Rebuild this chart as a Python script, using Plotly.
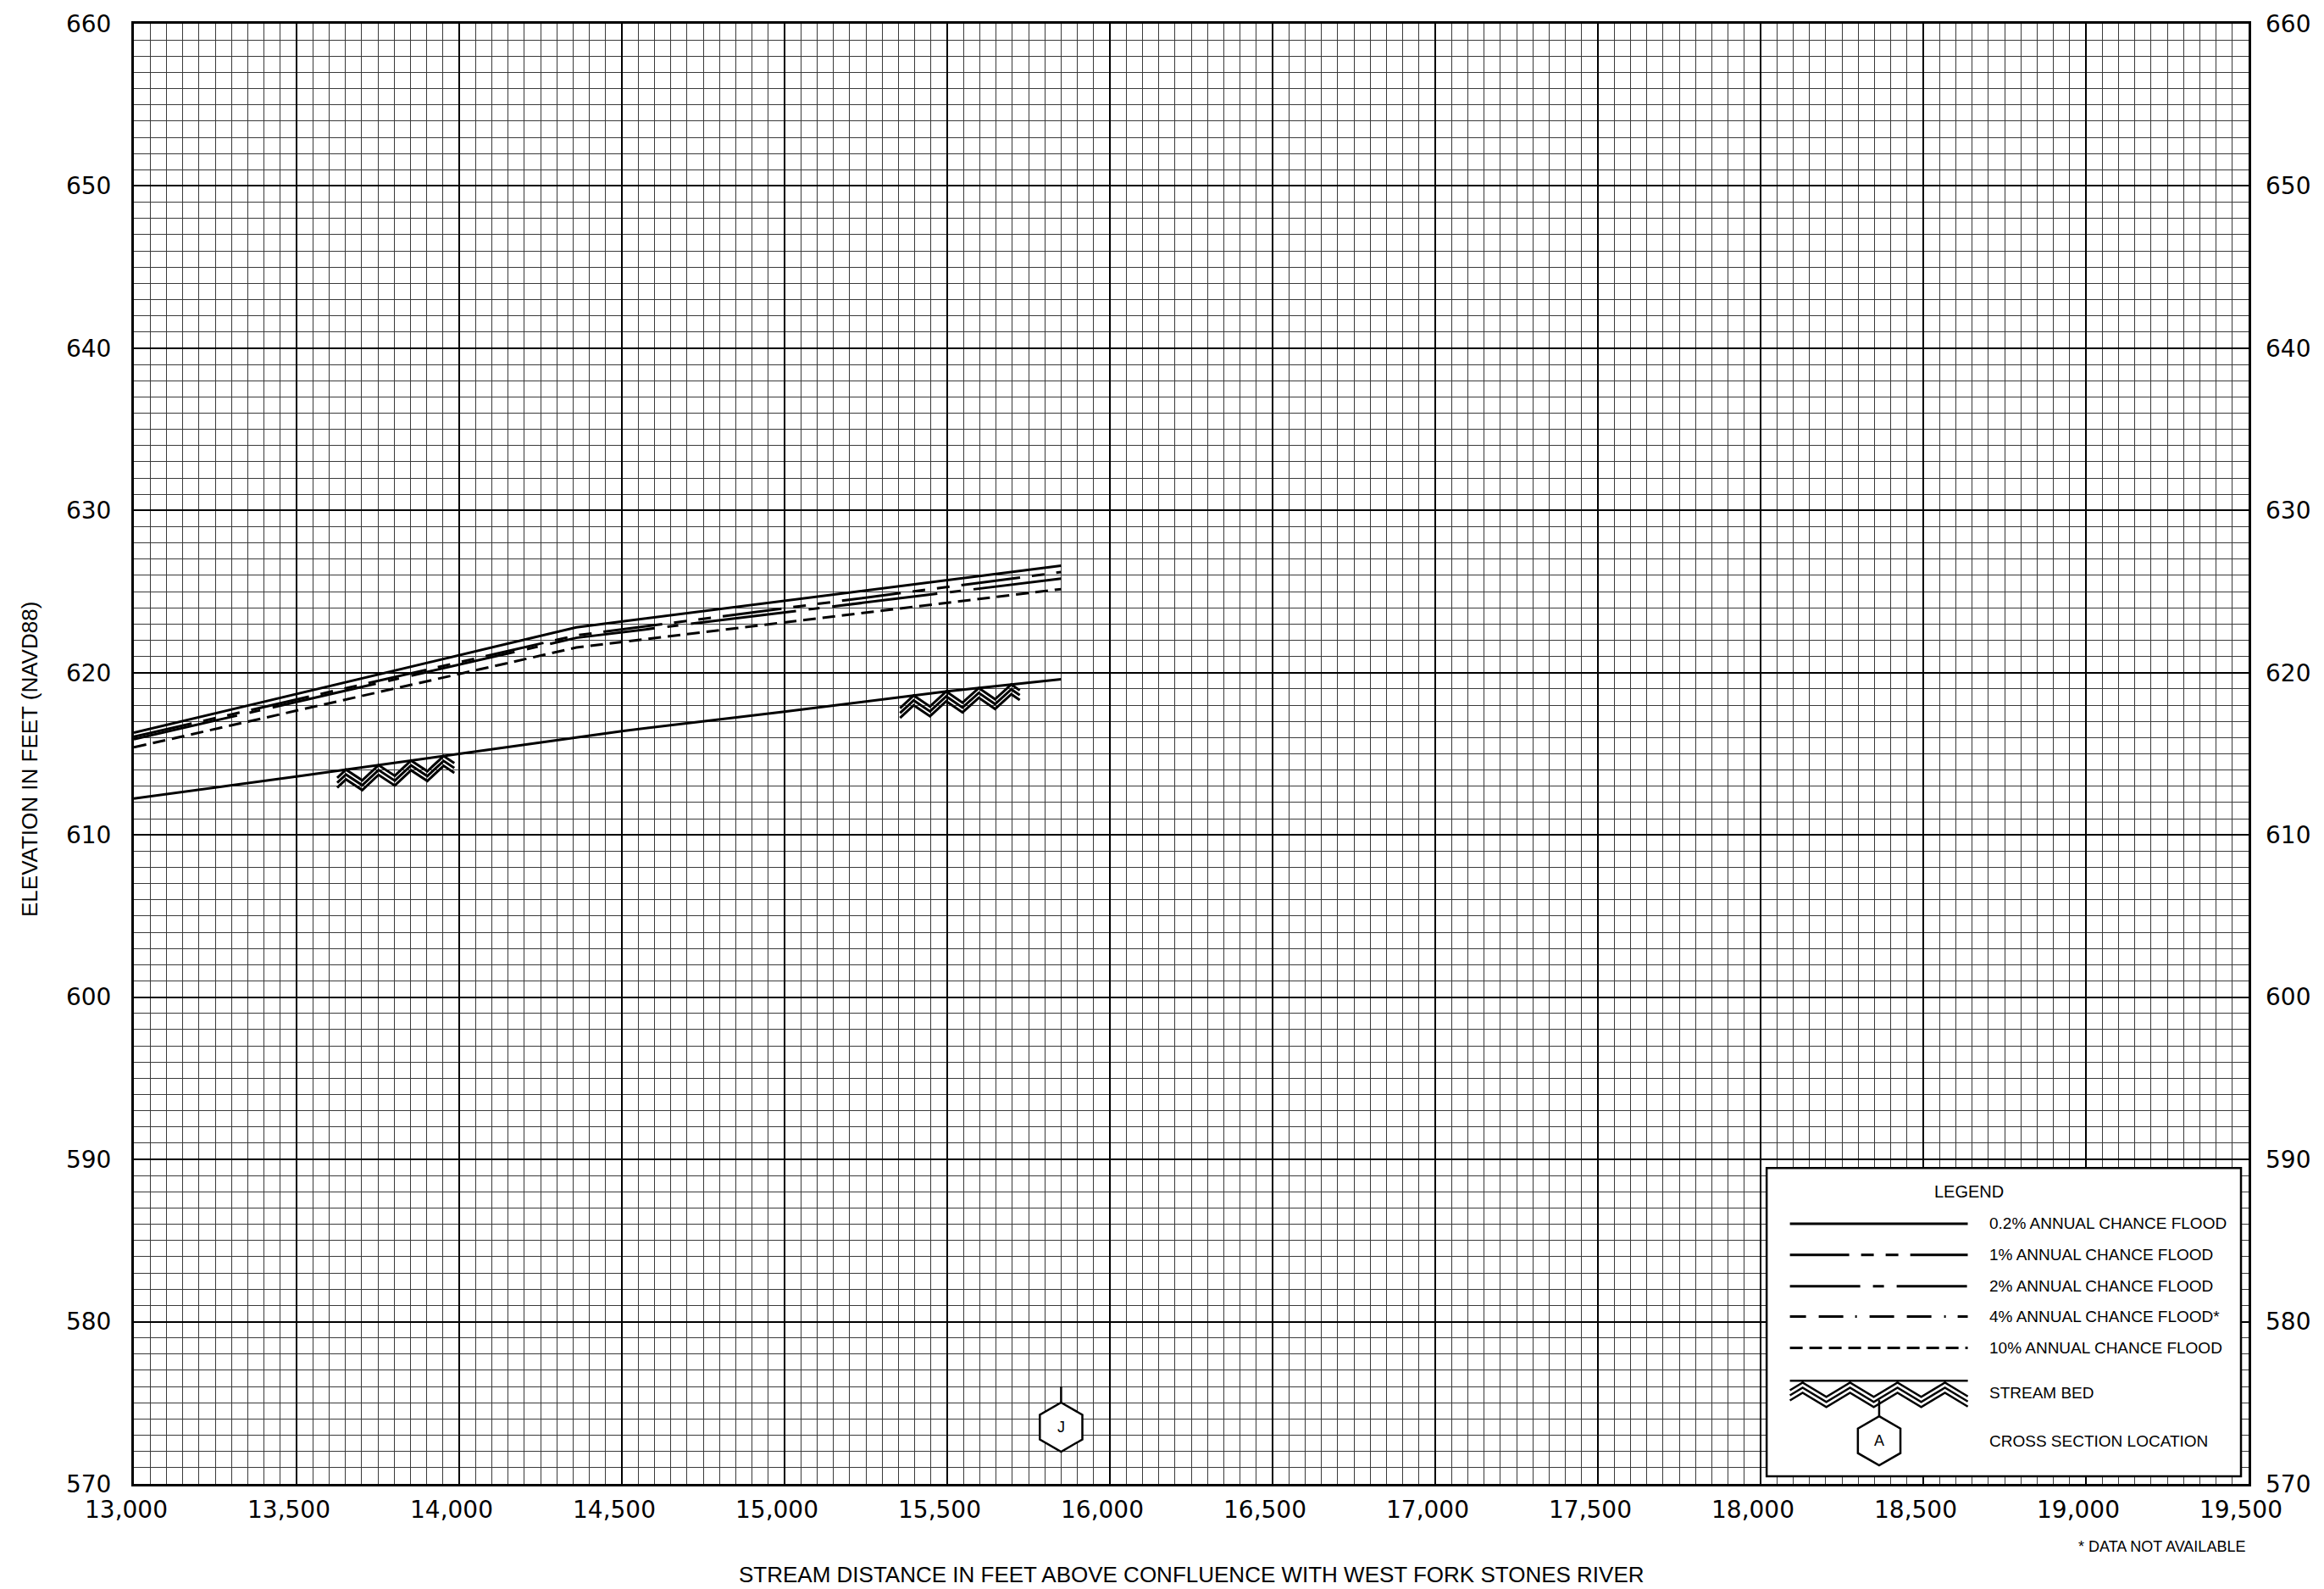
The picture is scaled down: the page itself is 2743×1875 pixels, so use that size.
import numpy as np
import plotly.graph_objects as go

# ---------------- data ----------------
flood_dist = [13000, 14360, 15850]
wse_0p2 = [616.3, 622.8, 626.6]      # 0.2% annual chance
wse_1 = [616.05, 622.3, 626.2]       # 1% annual chance
wse_2 = [615.9, 622.15, 625.8]       # 2% annual chance
wse_10 = [615.4, 621.55, 625.15]     # 10% annual chance

bed_dist = [13000, 13500, 14000, 14500, 15000, 15500, 15850]
bed_elev = [612.25, 613.6, 615.0, 616.4, 617.6, 618.85, 619.6]

# stream-bed hatch spots (start, end, first apex) in feet
hatch_start = [13625, 15355]
hatch_end = [13985, 15723]
hatch_apex = [13652, 15397]

xs_labels = ["J"]
xs_dist = [15850]
xs_marker_elev = [573.5]

x_ticks = list(range(13000, 19501, 500))
y_ticks = list(range(570, 661, 10))

legend_labels = ["0.2% ANNUAL CHANCE FLOOD", "1% ANNUAL CHANCE FLOOD",
                 "2% ANNUAL CHANCE FLOOD", "4% ANNUAL CHANCE FLOOD*",
                 "10% ANNUAL CHANCE FLOOD"]

# ---------------- styles ----------------
LW = 3
DASH_1 = "70px,14px,15px,14px,15px,14px"
DASH_2 = "125px,15px,13px,15px"
DASH_10 = "15px,8px"
LEG_DASHES = ["solid", DASH_1, "83px,15px,13px,15px",
              "19px,15px,29px,14px,2px,15px,29px,15px,29px,15px,2px,14px,19px,40px",
              DASH_10]
TICKFONT = dict(family="DejaVu Sans", size=28, color="black")
TXT = "Liberation Sans, Arial, sans-serif"

fig = go.Figure()

for y, dash in [(wse_0p2, "solid"), (wse_1, DASH_1), (wse_2, DASH_2), (wse_10, DASH_10)]:
    fig.add_trace(go.Scatter(x=flood_dist, y=y, mode="lines",
                             line=dict(color="black", width=LW, dash=dash),
                             showlegend=False, hoverinfo="skip"))

fig.add_trace(go.Scatter(x=bed_dist, y=bed_elev, mode="lines",
                         line=dict(color="black", width=LW),
                         showlegend=False, hoverinfo="skip"))

# hatch zigzags hanging below the stream bed
period = 100.0
depth = 0.8
offset = 0.3


def tri(x, apex0, per):
    u = ((x - apex0) % per) / per
    return 2 * u if u < 0.5 else 2 - 2 * u


hx, hy = [], []
for s, e, a in zip(hatch_start, hatch_end, hatch_apex):
    half = period / 2
    m0 = int(np.ceil((s - a) / half))
    m1 = int(np.floor((e - a) / half))
    pts = [s] + [a + m * half for m in range(m0, m1 + 1) if s < a + m * half < e] + [e]
    for k in range(3):
        for x in pts:
            hx.append(x)
            hy.append(float(np.interp(x, bed_dist, bed_elev)) - depth * tri(x, a, period) - k * offset)
        hx.append(None)
        hy.append(None)
fig.add_trace(go.Scatter(x=hx, y=hy, mode="lines", line=dict(color="black", width=3),
                         showlegend=False, hoverinfo="skip"))

# invisible trace for right axis
fig.add_trace(go.Scatter(x=[13000], y=[570], yaxis="y2", mode="markers",
                         marker=dict(opacity=0), showlegend=False, hoverinfo="skip"))

shapes = []
annotations = []

# hexagon path (pixels, pointy top)
R = 29
hexpts = [(0, R), (R * 0.866, R / 2), (R * 0.866, -R / 2), (0, -R), (-R * 0.866, -R / 2), (-R * 0.866, R / 2)]
hexpath = "M " + " L ".join(f"{px:.1f},{py:.1f}" for px, py in hexpts) + " Z"


def hexagon(xa, ya, xref, yref, label):
    shapes.append(dict(type="path", xref=xref, yref=yref, xsizemode="pixel", ysizemode="pixel",
                       xanchor=xa, yanchor=ya, path=hexpath, fillcolor="white",
                       line=dict(color="black", width=2.5), layer="above"))
    shapes.append(dict(type="line", xref=xref, yref=yref, xsizemode="pixel", ysizemode="pixel",
                       xanchor=xa, yanchor=ya, x0=0, x1=0, y0=R, y1=R + 19,
                       line=dict(color="black", width=2.5), layer="above"))
    annotations.append(dict(x=xa, y=ya, xref=xref, yref=yref, text=label, showarrow=False,
                            font=dict(family="Liberation Sans Narrow, " + TXT, size=18, color="black"),
                            xanchor="center", yanchor="middle"))


for lab, d, e in zip(xs_labels, xs_dist, xs_marker_elev):
    hexagon(d, e, "x", "y", lab)

# ---------------- legend box ----------------
L, Rb, T, B = 0.7721, 0.9964, 0.2164, 0.0052
shapes.append(dict(type="rect", xref="paper", yref="paper", x0=L, x1=Rb, y0=B, y1=T,
                   fillcolor="white", line=dict(color="black", width=2.5), layer="above"))
annotations.append(dict(x=0.8851, y=0.1928, xref="paper", yref="paper", text="LEGEND",
                        showarrow=False, font=dict(family=TXT, size=20, color="black")))
rows = [0.1782, 0.1568, 0.1354, 0.1146, 0.0932]
for lab, yy, dash in zip(legend_labels, rows, LEG_DASHES):
    shapes.append(dict(type="line", xref="paper", yref="paper", x0=0.7831, x1=0.8672, y0=yy, y1=yy,
                       line=dict(color="black", width=LW, dash=dash), layer="above"))
    annotations.append(dict(x=0.8766, y=yy, xref="paper", yref="paper", text=lab, showarrow=False,
                            xanchor="left", yanchor="middle",
                            font=dict(family=TXT, size=19, color="black")))

# stream-bed legend sample (pixels)
sw = 210
lp, ld, lo, la = 56.0, 17.0, 6.0, 15.0
path = f"M 0,0 L {sw},0 "
for k in range(3):
    verts = [0.0] + [la + m * lp / 2 for m in range(-1, 12) if 0 < la + m * lp / 2 < sw] + [float(sw)]
    segs = []
    for x in verts:
        segs.append(f"{x:.1f},{-(ld * tri(x, la, lp) + k * lo) - 2:.1f}")
    path += "M " + " L ".join(segs) + " "
shapes.append(dict(type="path", xref="paper", yref="paper", xsizemode="pixel", ysizemode="pixel",
                   xanchor=0.7831, yanchor=0.0706, path=path,
                   line=dict(color="black", width=2.5), layer="above"))
annotations.append(dict(x=0.8766, y=0.0625, xref="paper", yref="paper", text="STREAM BED",
                        showarrow=False, xanchor="left", yanchor="middle",
                        font=dict(family=TXT, size=19, color="black")))
hexagon(0.8253, 0.0295, "paper", "paper", "A")
annotations.append(dict(x=0.8766, y=0.0295, xref="paper", yref="paper", text="CROSS SECTION LOCATION",
                        showarrow=False, xanchor="left", yanchor="middle",
                        font=dict(family=TXT, size=19, color="black")))

# titles and note
annotations.append(dict(x=0.5, y=-0.0619, xref="paper", yref="paper",
                        text="STREAM DISTANCE IN FEET ABOVE CONFLUENCE WITH WEST FORK STONES RIVER",
                        showarrow=False, xanchor="center", yanchor="middle",
                        font=dict(family=TXT, size=26, color="black")))
annotations.append(dict(x=-0.0495, y=0.4965, xref="paper", yref="paper",
                        text="ELEVATION IN FEET (NAVD88)", textangle=-90,
                        showarrow=False, xanchor="center", yanchor="middle",
                        font=dict(family=TXT, size=26, color="black")))
annotations.append(dict(x=0.9992, y=-0.0428, xref="paper", yref="paper",
                        text="* DATA NOT AVAILABLE", showarrow=False, xanchor="right", yanchor="middle",
                        font=dict(family=TXT, size=18, color="black")))

axis_common = dict(showline=True, linecolor="black", linewidth=3, mirror=True, ticks="",
                   zeroline=False, tickfont=TICKFONT)

fig.update_layout(
    width=2743, height=1875, autosize=False,
    margin=dict(l=158, r=89, t=23, b=124, pad=0),
    paper_bgcolor="white", plot_bgcolor="white",
    showlegend=False,
    xaxis=dict(range=[13000, 19500], tickvals=x_ticks, tickformat=",",
               showgrid=True, gridcolor="black", gridwidth=2,
               minor=dict(dtick=50, tick0=13000, showgrid=True, gridcolor="#3a3a3a", gridwidth=1),
               ticklabelstandoff=3, ticklabelshift=-9, **axis_common),
    yaxis=dict(range=[570, 660], tickvals=y_ticks,
               showgrid=True, gridcolor="black", gridwidth=2,
               minor=dict(dtick=1, tick0=570, showgrid=True, gridcolor="#3a3a3a", gridwidth=1),
               ticklabelstandoff=18, ticklabeloverflow="allow", **axis_common),
    yaxis2=dict(range=[570, 660], tickvals=y_ticks, overlaying="y", side="right",
                showgrid=False, showline=False, ticks="", zeroline=False, tickfont=TICKFONT,
                ticklabelstandoff=19, ticklabeloverflow="allow"),
    shapes=shapes,
    annotations=annotations,
)

fig.write_html("out.html", config={"displayModeBar": False},
               post_script="document.body.style.margin='0';")
